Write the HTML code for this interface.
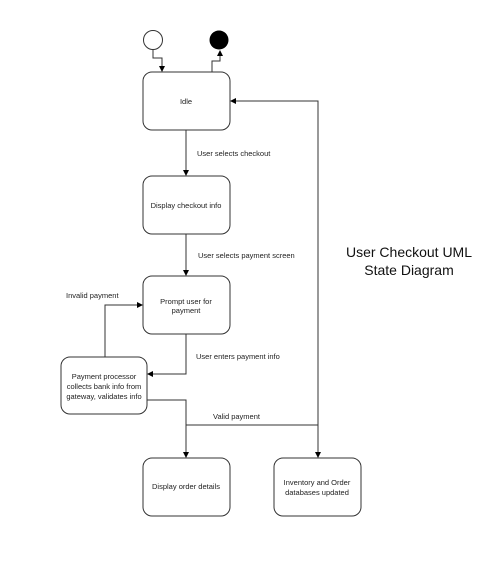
<!DOCTYPE html>
<html><head><style>html,body{margin:0;padding:0;background:#fff}svg{display:block}text{font-family:"Liberation Sans",sans-serif;font-size:7.5px;fill:#222}</style></head>
<body>
<svg width="502" height="563" viewBox="0 0 502 563" xmlns="http://www.w3.org/2000/svg">
<defs><marker id="a" markerWidth="6" markerHeight="6" refX="5" refY="3" orient="auto" markerUnits="userSpaceOnUse"><path d="M0,0 L6,3 L0,6 z" fill="#000"/></marker></defs>
<g fill="#fff" stroke="#333" stroke-width="1">
<circle cx="153" cy="40" r="9.5"/>
<rect x="143" y="72" width="87" height="58" rx="9"/>
<rect x="143" y="176" width="87" height="58" rx="9"/>
<rect x="143" y="276" width="87" height="58" rx="9"/>
<rect x="61" y="357" width="86" height="57" rx="9"/>
<rect x="143" y="458" width="87" height="58" rx="9"/>
<rect x="274" y="458" width="87" height="58" rx="9"/>
</g>
<circle cx="219" cy="40" r="9.5" fill="#000"/>
<g fill="none" stroke="#333" stroke-width="1">
<path d="M153,49.5 V58 H162 V71" marker-end="url(#a)"/>
<path d="M212,72 V61 H220 V51" marker-end="url(#a)"/>
<path d="M186,130 V175" marker-end="url(#a)"/>
<path d="M186,234 V275" marker-end="url(#a)"/>
<path d="M186,334 V374 H148" marker-end="url(#a)"/>
<path d="M105,357 V305 H142" marker-end="url(#a)"/>
<path d="M147,400 H186 V457" marker-end="url(#a)"/>
<path d="M186,425 H318"/>
<path d="M318,425 V457" marker-end="url(#a)"/>
<path d="M318,425 V101 H231" marker-end="url(#a)"/>
</g>
<g text-anchor="middle">
<text x="186" y="104">Idle</text>
<text x="186" y="208">Display checkout info</text>
<text x="186" y="304">Prompt user for</text>
<text x="186" y="313">payment</text>
<text x="104" y="379">Payment processor</text>
<text x="104" y="389">collects bank info from</text>
<text x="104" y="399">gateway, validates info</text>
<text x="186" y="489">Display order details</text>
<text x="317" y="485">Inventory and Order</text>
<text x="317" y="495">databases updated</text>
</g>
<text x="197" y="156">User selects checkout</text>
<text x="198" y="258">User selects payment screen</text>
<text x="66" y="298">Invalid payment</text>
<text x="196" y="359">User enters payment info</text>
<text x="213" y="419">Valid payment</text>
<g text-anchor="middle">
<text x="409" y="257" style="font-size:14px;fill:#111">User Checkout UML</text>
<text x="409" y="275" style="font-size:14px;fill:#111">State Diagram</text>
</g>
</svg>
</body></html>
